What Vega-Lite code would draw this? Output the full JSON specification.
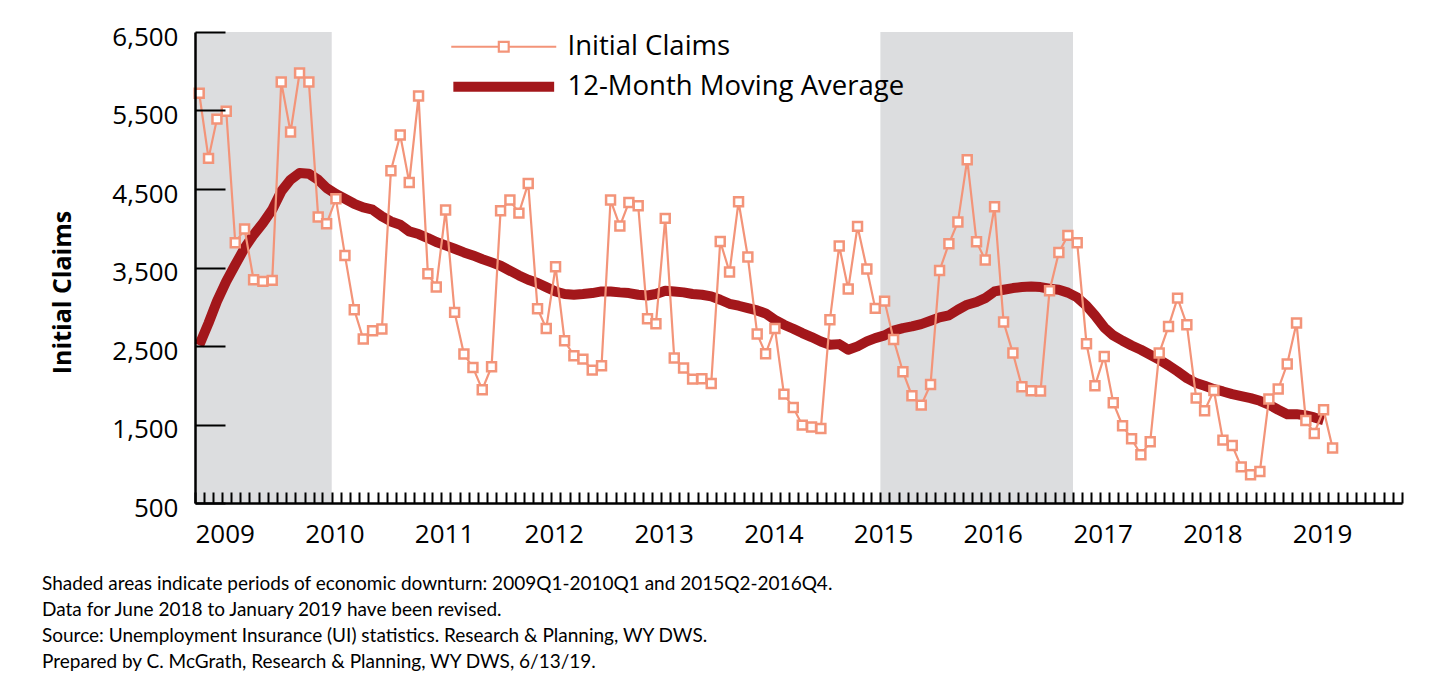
{
  "$schema": "https://vega.github.io/schema/vega-lite/v6.json",
  "width": 1207,
  "height": 471,
  "autosize": {"type": "none"},
  "padding": {"left": 195, "top": 32, "right": 46, "bottom": 178},
  "background": "white",
  "config": {
    "view": {"stroke": null},
    "font": "Open Sans",
    "axis": {
      "domainColor": "black", "domainWidth": 2.5, "tickColor": "black", "tickWidth": 2,
      "labelColor": "black", "labelFont": "Open Sans", "labelFontSize": 26, "grid": false,
      "titleColor": "black"
    }
  },
  "title": {
    "text": [
      "Shaded areas indicate periods of economic downturn: 2009Q1-2010Q1 and 2015Q2-2016Q4.",
      "Data for June 2018 to January 2019 have been revised.",
      "Source: Unemployment Insurance (UI) statistics. Research & Planning, WY DWS.",
      "Prepared by C. McGrath, Research & Planning, WY DWS, 6/13/19."
    ],
    "orient": "bottom", "anchor": "start", "frame": "group",
    "fontSize": 19, "fontWeight": "normal", "font": "Lato, sans-serif",
    "lineHeight": 26, "dx": -153, "offset": 28, "color": "black", "baseline": "top"
  },
  "datasets": {
    "downturns": [
      {"start": "2009-01-01", "end": "2010-04-01"},
      {"start": "2015-04-01", "end": "2017-01-01"}
    ],
    "claims": [
      {"date": "2009-01-15", "claims": 5720, "avg": 2510},
      {"date": "2009-02-15", "claims": 4890, "avg": 2792},
      {"date": "2009-03-15", "claims": 5390, "avg": 3068},
      {"date": "2009-04-15", "claims": 5490, "avg": 3323},
      {"date": "2009-05-15", "claims": 3815, "avg": 3535},
      {"date": "2009-06-15", "claims": 3990, "avg": 3748},
      {"date": "2009-07-15", "claims": 3344, "avg": 3917},
      {"date": "2009-08-15", "claims": 3323, "avg": 4066},
      {"date": "2009-09-15", "claims": 3336, "avg": 4236},
      {"date": "2009-10-15", "claims": 5863, "avg": 4469},
      {"date": "2009-11-15", "claims": 5225, "avg": 4618},
      {"date": "2009-12-15", "claims": 5977, "avg": 4703},
      {"date": "2010-01-15", "claims": 5863, "avg": 4695},
      {"date": "2010-02-15", "claims": 4143, "avg": 4618},
      {"date": "2010-03-15", "claims": 4058, "avg": 4512},
      {"date": "2010-04-15", "claims": 4376, "avg": 4436},
      {"date": "2010-05-15", "claims": 3654, "avg": 4376},
      {"date": "2010-06-15", "claims": 2962, "avg": 4312},
      {"date": "2010-07-15", "claims": 2588, "avg": 4265},
      {"date": "2010-08-15", "claims": 2694, "avg": 4236},
      {"date": "2010-09-15", "claims": 2716, "avg": 4151},
      {"date": "2010-10-15", "claims": 4733, "avg": 4087},
      {"date": "2010-11-15", "claims": 5187, "avg": 4045},
      {"date": "2010-12-15", "claims": 4584, "avg": 3960},
      {"date": "2011-01-15", "claims": 5684, "avg": 3926},
      {"date": "2011-02-15", "claims": 3421, "avg": 3875},
      {"date": "2011-03-15", "claims": 3251, "avg": 3824},
      {"date": "2011-04-15", "claims": 4232, "avg": 3782},
      {"date": "2011-05-15", "claims": 2928, "avg": 3739},
      {"date": "2011-06-15", "claims": 2397, "avg": 3692},
      {"date": "2011-07-15", "claims": 2227, "avg": 3654},
      {"date": "2011-08-15", "claims": 1943, "avg": 3607},
      {"date": "2011-09-15", "claims": 2236, "avg": 3565},
      {"date": "2011-10-15", "claims": 4223, "avg": 3522},
      {"date": "2011-11-15", "claims": 4359, "avg": 3459},
      {"date": "2011-12-15", "claims": 4193, "avg": 3399},
      {"date": "2012-01-15", "claims": 4571, "avg": 3344},
      {"date": "2012-02-15", "claims": 2975, "avg": 3302},
      {"date": "2012-03-15", "claims": 2724, "avg": 3250},
      {"date": "2012-04-15", "claims": 3510, "avg": 3195},
      {"date": "2012-05-15", "claims": 2567, "avg": 3162},
      {"date": "2012-06-15", "claims": 2376, "avg": 3153},
      {"date": "2012-07-15", "claims": 2333, "avg": 3162},
      {"date": "2012-08-15", "claims": 2193, "avg": 3174},
      {"date": "2012-09-15", "claims": 2248, "avg": 3195},
      {"date": "2012-10-15", "claims": 4359, "avg": 3195},
      {"date": "2012-11-15", "claims": 4028, "avg": 3183},
      {"date": "2012-12-15", "claims": 4329, "avg": 3174},
      {"date": "2013-01-15", "claims": 4287, "avg": 3153},
      {"date": "2013-02-15", "claims": 2847, "avg": 3144},
      {"date": "2013-03-15", "claims": 2783, "avg": 3162},
      {"date": "2013-04-15", "claims": 4126, "avg": 3204},
      {"date": "2013-05-15", "claims": 2346, "avg": 3195},
      {"date": "2013-06-15", "claims": 2219, "avg": 3183},
      {"date": "2013-07-15", "claims": 2078, "avg": 3162},
      {"date": "2013-08-15", "claims": 2083, "avg": 3153},
      {"date": "2013-09-15", "claims": 2023, "avg": 3132},
      {"date": "2013-10-15", "claims": 3832, "avg": 3089},
      {"date": "2013-11-15", "claims": 3442, "avg": 3038},
      {"date": "2013-12-15", "claims": 4338, "avg": 3013},
      {"date": "2014-01-15", "claims": 3633, "avg": 2983},
      {"date": "2014-02-15", "claims": 2652, "avg": 2953},
      {"date": "2014-03-15", "claims": 2401, "avg": 2915},
      {"date": "2014-04-15", "claims": 2724, "avg": 2834},
      {"date": "2014-05-15", "claims": 1887, "avg": 2771},
      {"date": "2014-06-15", "claims": 1717, "avg": 2720},
      {"date": "2014-07-15", "claims": 1492, "avg": 2665},
      {"date": "2014-08-15", "claims": 1467, "avg": 2614},
      {"date": "2014-09-15", "claims": 1450, "avg": 2558},
      {"date": "2014-10-15", "claims": 2834, "avg": 2516},
      {"date": "2014-11-15", "claims": 3773, "avg": 2524},
      {"date": "2014-12-15", "claims": 3225, "avg": 2452},
      {"date": "2015-01-15", "claims": 4024, "avg": 2495},
      {"date": "2015-02-15", "claims": 3480, "avg": 2558},
      {"date": "2015-03-15", "claims": 2979, "avg": 2601},
      {"date": "2015-04-15", "claims": 3072, "avg": 2635},
      {"date": "2015-05-15", "claims": 2582, "avg": 2696},
      {"date": "2015-06-15", "claims": 2172, "avg": 2728},
      {"date": "2015-07-15", "claims": 1866, "avg": 2749},
      {"date": "2015-08-15", "claims": 1747, "avg": 2779},
      {"date": "2015-09-15", "claims": 2010, "avg": 2822},
      {"date": "2015-10-15", "claims": 3463, "avg": 2864},
      {"date": "2015-11-15", "claims": 3803, "avg": 2890},
      {"date": "2015-12-15", "claims": 4079, "avg": 2962},
      {"date": "2016-01-15", "claims": 4873, "avg": 3026},
      {"date": "2016-02-15", "claims": 3828, "avg": 3060},
      {"date": "2016-03-15", "claims": 3595, "avg": 3110},
      {"date": "2016-04-15", "claims": 4274, "avg": 3195},
      {"date": "2016-05-15", "claims": 2805, "avg": 3217},
      {"date": "2016-06-15", "claims": 2410, "avg": 3238},
      {"date": "2016-07-15", "claims": 1981, "avg": 3251},
      {"date": "2016-08-15", "claims": 1930, "avg": 3259},
      {"date": "2016-09-15", "claims": 1926, "avg": 3251},
      {"date": "2016-10-15", "claims": 3204, "avg": 3229},
      {"date": "2016-11-15", "claims": 3692, "avg": 3217},
      {"date": "2016-12-15", "claims": 3909, "avg": 3180},
      {"date": "2017-01-15", "claims": 3815, "avg": 3119},
      {"date": "2017-02-15", "claims": 2529, "avg": 3013},
      {"date": "2017-03-15", "claims": 1993, "avg": 2890},
      {"date": "2017-04-15", "claims": 2367, "avg": 2737},
      {"date": "2017-05-15", "claims": 1777, "avg": 2635},
      {"date": "2017-06-15", "claims": 1484, "avg": 2567},
      {"date": "2017-07-15", "claims": 1318, "avg": 2507},
      {"date": "2017-08-15", "claims": 1114, "avg": 2452},
      {"date": "2017-09-15", "claims": 1280, "avg": 2389},
      {"date": "2017-10-15", "claims": 2410, "avg": 2325},
      {"date": "2017-11-15", "claims": 2749, "avg": 2253},
      {"date": "2017-12-15", "claims": 3110, "avg": 2176},
      {"date": "2018-01-15", "claims": 2771, "avg": 2091},
      {"date": "2018-02-15", "claims": 1836, "avg": 2028},
      {"date": "2018-03-15", "claims": 1675, "avg": 1994},
      {"date": "2018-04-15", "claims": 1934, "avg": 1951},
      {"date": "2018-05-15", "claims": 1301, "avg": 1921},
      {"date": "2018-06-15", "claims": 1233, "avg": 1887},
      {"date": "2018-07-15", "claims": 960, "avg": 1862},
      {"date": "2018-08-15", "claims": 860, "avg": 1836},
      {"date": "2018-09-15", "claims": 902, "avg": 1802},
      {"date": "2018-10-15", "claims": 1824, "avg": 1752},
      {"date": "2018-11-15", "claims": 1951, "avg": 1688},
      {"date": "2018-12-15", "claims": 2270, "avg": 1632},
      {"date": "2019-01-15", "claims": 2792, "avg": 1632},
      {"date": "2019-02-15", "claims": 1552, "avg": 1615},
      {"date": "2019-03-15", "claims": 1386, "avg": 1590},
      {"date": "2019-04-15", "claims": 1688, "avg": 1555},
      {"date": "2019-05-15", "claims": 1200, "avg": null}
    ]
  },
  "layer": [
    {
      "data": {"name": "downturns"},
      "mark": {"type": "rect", "color": "#DCDDDF"},
      "encoding": {
        "x": {
          "field": "start", "type": "temporal",
          "scale": {"type": "utc", "domain": [{"year": 2009, "month": 1, "date": 1, "utc": true}, {"year": 2020, "month": 1, "date": 1, "utc": true}]},
          "axis": {
            "title": null, "zindex": 1,
            "tickCount": {"interval": "month", "step": 1},
            "labelExpr": "utcmonth(datum.value) == 0 && utcyear(datum.value) < 2020 ? utcFormat(datum.value, '%Y') : ''",
            "tickSize": -11, "labelAlign": "left", "labelBaseline": "top", "labelPadding": 29,
            "labelOverlap": false, "labelFlush": false
          }
        },
        "x2": {"field": "end"}
      }
    },
    {
      "data": {"name": "claims"},
      "mark": {"type": "line", "strokeWidth": 10, "strokeJoin": "round", "strokeCap": "butt"},
      "encoding": {
        "x": {"field": "date", "type": "temporal", "title": null, "axis": {"zindex": 1}},
        "y": {
          "field": "avg", "type": "quantitative", "title": "Initial Claims",
          "scale": {"domain": [500, 6500], "nice": false, "zero": false},
          "axis": {
            "zindex": 1,
            "values": [500, 1500, 2500, 3500, 4500, 5500, 6500],
            "labelExpr": "format(datum.value, ',')",
            "tickSize": -30, "labelPadding": 47, "labelOffset": 5, "labelAlign": "right",
            "titleFontSize": 25, "titleFontWeight": "bold", "titleFont": "Open Sans",
            "titleX": -133, "titleY": 260, "titleAngle": -90, "titleAlign": "center", "titleBaseline": "middle"
          }
        },
        "color": {
          "datum": "12-Month Moving Average", "type": "nominal",
          "scale": {"domain": ["Initial Claims", "12-Month Moving Average"], "range": ["#F39479", "#A3171B"]},
          "legend": {
            "title": null, "orient": "none", "legendX": 295, "legendY": 1, "padding": 0,
            "labelFontSize": 27.5, "labelColor": "black", "labelFont": "Open Sans", "labelOffset": 50,
            "labelLimit": 600, "rowPadding": 11, "symbolSize": 196,
            "encode": {
              "symbols": {
                "update": {
                  "shape": {"signal": "datum.value === 'Initial Claims' ? 'M-7.5,-0.15H-0.86V0.15H-7.5Z M0.86,-0.15H7.5V0.15H0.86Z M-0.86,-0.86H0.86V0.86H-0.86Z M-0.55,-0.55V0.55H0.55V-0.55Z' : 'M-7.2,-0.72H7.2V0.72H-7.2Z'"},
                  "fill": {"signal": "datum.value === 'Initial Claims' ? '#F39479' : '#A3171B'"},
                  "stroke": {"value": "transparent"},
                  "strokeWidth": {"value": 0},
                  "size": {"value": 196},
                  "opacity": {"value": 1}
                }
              }
            }
          }
        }
      }
    },
    {
      "data": {"name": "claims"},
      "mark": {"type": "line", "strokeWidth": 2.2},
      "encoding": {
        "x": {"field": "date", "type": "temporal", "title": null, "axis": {"zindex": 1}},
        "y": {"field": "claims", "type": "quantitative", "title": "Initial Claims", "axis": {"zindex": 1}},
        "color": {"datum": "Initial Claims", "type": "nominal"}
      }
    },
    {
      "data": {"name": "claims"},
      "mark": {"type": "point", "shape": "square", "filled": true, "fill": "white", "stroke": "#F39479", "strokeWidth": 2.5, "size": 80, "opacity": 1},
      "encoding": {
        "x": {"field": "date", "type": "temporal", "title": null, "axis": {"zindex": 1}},
        "y": {"field": "claims", "type": "quantitative", "title": "Initial Claims", "axis": {"zindex": 1}}
      }
    }
  ]
}
